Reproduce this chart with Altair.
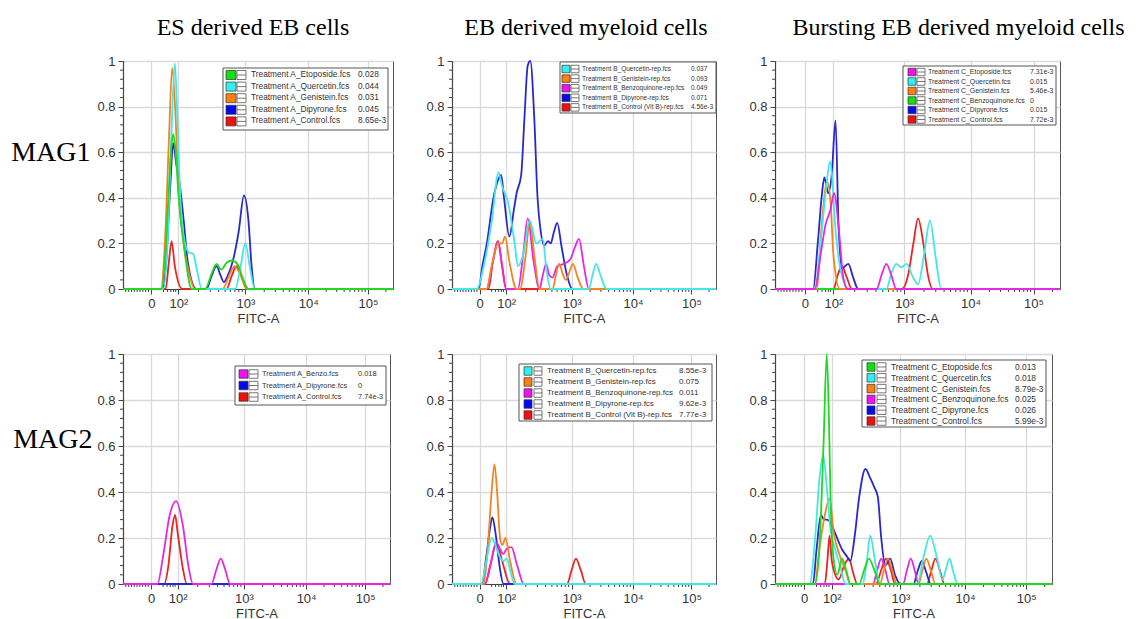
import altair as alt
import pandas as pd

# ---------------- data ----------------
# x values are positions on the biexponential FITC-A axis expressed in axis units:
# 1 = "0", 2 = 10^2, 3 = 10^3, 4 = 10^4, 5 = 10^5 (left edge 0, right edge 5.42)
X_TICKS = [1, 2, 3, 4, 5]
X_TICK_LABELS = ["0", "10²", "10³", "10⁴", "10⁵"]
Y_TICKS = [0, 0.2, 0.4, 0.6, 0.8, 1]
Y_MINOR = [0.04, 0.08, 0.12, 0.16, 0.24, 0.28, 0.32, 0.36, 0.44, 0.48, 0.52, 0.56,
           0.64, 0.68, 0.72, 0.76, 0.84, 0.88, 0.92, 0.96]
X_MINOR = [0.1, 0.2, 0.3, 0.4, 0.5, 0.6, 0.7, 0.8, 0.9, 1.45, 1.6, 1.72, 1.82, 1.9,
           2.301, 2.477, 2.602, 2.699, 2.778, 2.845, 2.903, 2.954,
           3.301, 3.477, 3.602, 3.699, 3.778, 3.845, 3.903, 3.954,
           4.301, 4.477, 4.602, 4.699, 4.778, 4.845, 4.903, 4.954, 5.301]

COL_TITLES = ["ES derived EB cells", "EB derived myeloid cells", "Bursting EB derived myeloid cells"]
ROW_TITLES = ["MAG1", "MAG2"]

# Panel 1: ES derived EB cells, MAG1
P1_LABELS = ["Treatment A_Etoposide.fcs", "Treatment A_Quercetin.fcs", "Treatment A_Genistein.fcs",
             "Treatment A_Dipyrone.fcs", "Treatment A_Control.fcs"]
P1_VALUES = ["0.028", "0.044", "0.031", "0.045", "8.65e-3"]
P1_COLORS = ["green", "cyan", "orange", "blue", "red"]
P1_X = [
    [1.38, 1.5, 1.62, 1.74, 1.81, 1.9, 2.0, 2.1, 2.2, 2.4, 2.5, 2.57, 2.64, 2.72, 2.8, 2.88, 2.96, 3.04],
    [1.44, 1.6, 1.75, 1.87, 1.95, 2.03, 2.1, 2.16, 2.22, 2.28, 2.35, 2.85, 2.93, 3.0, 3.07, 3.15],
    [1.36, 1.5, 1.65, 1.77, 1.88, 2.0, 2.08, 2.16, 2.25, 2.66, 2.76, 2.84, 2.93, 3.02],
    [1.42, 1.55, 1.7, 1.81, 1.92, 2.02, 2.08, 2.14, 2.27, 2.42, 2.5, 2.57, 2.63, 2.68, 2.74, 2.82,
     2.9, 2.98, 3.05, 3.1, 3.15],
    [1.53, 1.65, 1.75, 1.87, 2.06, 2.72, 2.8, 2.87, 2.95, 3.05],
]
P1_Y = [
    [0, 0.12, 0.38, 0.62, 0.68, 0.6, 0.42, 0.15, 0, 0, 0.07, 0.11, 0.085, 0.115, 0.125, 0.11, 0.05, 0],
    [0, 0.2, 0.7, 0.99, 0.8, 0.4, 0.2, 0.16, 0.155, 0.08, 0, 0, 0.1, 0.2, 0.1, 0],
    [0, 0.2, 0.65, 0.97, 0.8, 0.45, 0.2, 0.07, 0, 0, 0.06, 0.1, 0.06, 0],
    [0, 0.12, 0.45, 0.64, 0.55, 0.46, 0.3, 0.12, 0, 0, 0.06, 0.1, 0.06, 0.03, 0.06, 0.13,
     0.25, 0.41, 0.3, 0.1, 0],
    [0, 0.12, 0.21, 0.1, 0, 0, 0.06, 0.1, 0.05, 0],
]

# Panel 2: EB derived myeloid cells, MAG1
P2_LABELS = ["Treatment B_Quercetin-rep.fcs", "Treatment B_Genistein-rep.fcs",
             "Treatment B_Benzoquinone-rep.fcs", "Treatment B_Dipyrone-rep.fcs",
             "Treatment B_Control (Vit B)-rep.fcs"]
P2_VALUES = ["0.037", "0.093", "0.049", "0.071", "4.56e-3"]
P2_COLORS = ["cyan", "orange", "magenta", "blue", "red"]
P2_X = [
    [0.9, 1.15, 1.46, 1.71, 1.85, 2.03, 2.13, 2.18, 2.26, 2.36, 2.46, 2.56, 2.61, 2.68,
     3.28, 3.34, 3.4, 3.47, 3.57],
    [1.26, 1.45, 1.7, 1.85, 1.96, 2.05, 2.16, 2.21, 2.3, 2.36, 2.43, 2.51,
     2.71, 2.76, 2.81, 2.86, 2.91, 2.96, 3.02, 3.1, 3.19],
    [1.26, 1.5, 1.7, 1.85, 2.0, 2.18, 2.26, 2.33, 2.42, 2.51, 2.56, 2.61, 2.66, 2.71, 2.78,
     2.88, 2.98, 3.05, 3.12, 3.2, 3.28],
    [0.96, 1.1, 1.27, 1.52, 1.7, 1.81, 1.92, 2.05, 2.12, 2.16, 2.23, 2.28, 2.33, 2.37, 2.43, 2.48,
     2.53, 2.58, 2.64, 2.68, 2.73, 2.78, 2.85, 2.93, 3.01],
    [1.33, 1.5, 1.68, 1.85, 2.0],
]
P2_Y = [
    [0, 0.1, 0.3, 0.51, 0.45, 0.38, 0.2, 0.1, 0.15, 0.3, 0.2, 0.22, 0.1, 0,
     0, 0.06, 0.11, 0.06, 0],
    [0, 0.1, 0.2, 0.2, 0.23, 0.12, 0, 0, 0.15, 0.3, 0.15, 0,
     0, 0.06, 0.11, 0.07, 0.04, 0.07, 0.11, 0.05, 0],
    [0, 0.12, 0.21, 0.1, 0, 0, 0.15, 0.31, 0.12, 0, 0.06, 0.11, 0.06, 0.05, 0.1,
     0.11, 0.13, 0.18, 0.22, 0.1, 0],
    [0, 0.1, 0.2, 0.4, 0.48, 0.5, 0.4, 0.23, 0.35, 0.42, 0.5, 0.75, 0.98, 1.0, 0.75, 0.4,
     0.25, 0.19, 0.21, 0.2, 0.25, 0.29, 0.18, 0.06, 0],
    [0, 0.12, 0.21, 0.1, 0],
]

# Panel 3: Bursting EB derived myeloid cells, MAG1
P3_LABELS = ["Treatment C_Etoposide.fcs", "Treatment C_Quercetin.fcs", "Treatment C_Genistein.fcs",
             "Treatment C_Benzoquinone.fcs", "Treatment C_Dipyrone.fcs", "Treatment C_Control.fcs"]
P3_VALUES = ["7.31e-3", "0.015", "5.46e-3", "0", "0.015", "7.72e-3"]
P3_COLORS = ["magenta", "cyan", "orange", "green", "blue", "red"]
P3_X = [
    [1.35, 1.55, 1.72, 1.9, 2.01, 2.08, 2.14, 2.2, 2.61, 2.68, 2.75, 2.82, 2.89],
    [1.35, 1.55, 1.75, 1.88, 1.95, 2.02, 2.09, 2.15, 2.22,
     2.75, 2.82, 2.89, 2.96, 3.04, 3.12, 3.21, 3.3, 3.39, 3.47, 3.56],
    [1.41, 1.6, 1.78, 1.9, 2.0, 2.09],
    [],
    [1.29, 1.45, 1.6, 1.68, 1.82, 1.94, 2.03, 2.07, 2.12, 2.21, 2.28, 2.35],
    [2.0, 2.06, 2.12, 2.19, 2.26, 2.97, 3.06, 3.14, 3.21, 3.29, 3.36, 3.43],
]
P3_Y = [
    [0, 0.15, 0.28, 0.35, 0.42, 0.25, 0.05, 0, 0, 0.06, 0.11, 0.06, 0],
    [0, 0.2, 0.45, 0.56, 0.5, 0.3, 0.1, 0.03, 0,
     0, 0.07, 0.11, 0.095, 0.11, 0.06, 0.02, 0.15, 0.3, 0.15, 0],
    [0, 0.3, 0.47, 0.38, 0.15, 0],
    [],
    [0, 0.2, 0.42, 0.49, 0.42, 0.5, 0.74, 0.3, 0.09, 0.11, 0.05, 0],
    [0, 0.06, 0.1, 0.05, 0, 0, 0.06, 0.2, 0.31, 0.2, 0.06, 0],
]

# Panel 4: ES derived EB cells, MAG2
P4_LABELS = ["Treatment A_Benzo.fcs", "Treatment A_Dipyrone.fcs", "Treatment A_Control.fcs"]
P4_VALUES = ["0.018", "0", "7.74e-3"]
P4_COLORS = ["magenta", "blue", "red"]
P4_X = [
    [1.24, 1.45, 1.7, 1.94, 2.08, 2.16, 2.23, 2.51, 2.58, 2.65, 2.72, 2.79],
    [],
    [1.49, 1.65, 1.8, 1.9, 2.0, 2.07, 2.14],
]
P4_Y = [
    [0, 0.12, 0.3, 0.36, 0.25, 0.08, 0, 0, 0.06, 0.11, 0.06, 0],
    [],
    [0, 0.08, 0.25, 0.3, 0.22, 0.08, 0],
]

# Panel 5: EB derived myeloid cells, MAG2
P5_LABELS = ["Treatment B_Quercetin-rep.fcs", "Treatment B_Genistein-rep.fcs",
             "Treatment B_Benzoquinone-rep.fcs", "Treatment B_Dipyrone-rep.fcs",
             "Treatment B_Control (Vit B)-rep.fcs"]
P5_VALUES = ["8.55e-3", "0.075", "0.011", "9.62e-3", "7.77e-3"]
P5_COLORS = ["cyan", "orange", "magenta", "blue", "red"]
P5_X = [
    [1.05, 1.25, 1.45, 1.6, 1.75, 1.9, 2.01, 2.07, 2.13],
    [1.14, 1.3, 1.45, 1.56, 1.67, 1.77, 1.86, 1.98, 2.06, 2.16],
    [1.2, 1.4, 1.62, 1.78, 1.9, 2.0, 2.08, 2.17, 2.27],
    [1.08, 1.25, 1.4, 1.48, 1.6, 1.75, 1.9],
    [1.2, 1.4, 1.64, 1.85, 2.06, 2.93, 3.0, 3.07, 3.15, 3.23],
]
P5_Y = [
    [0, 0.1, 0.2, 0.17, 0.12, 0.1, 0.11, 0.05, 0],
    [0, 0.15, 0.4, 0.52, 0.38, 0.2, 0.17, 0.2, 0.1, 0],
    [0, 0.08, 0.18, 0.15, 0.13, 0.15, 0.16, 0.08, 0],
    [0, 0.12, 0.25, 0.29, 0.22, 0.08, 0],
    [0, 0.08, 0.18, 0.1, 0, 0, 0.06, 0.11, 0.06, 0],
]

# Panel 6: Bursting EB derived myeloid cells, MAG2
P6_LABELS = ["Treatment C_Etoposide.fcs", "Treatment C_Quercetin.fcs", "Treatment C_Genistein.fcs",
             "Treatment C_Benzoquinone.fcs", "Treatment C_Dipyrone.fcs", "Treatment C_Control.fcs"]
P6_VALUES = ["0.013", "0.018", "8.79e-3", "0.025", "0.026", "5.99e-3"]
P6_COLORS = ["green", "cyan", "orange", "magenta", "blue", "red"]
P6_X = [
    [1.39, 1.55, 1.7, 1.82, 1.9, 1.97, 2.03, 2.08, 2.15, 2.21, 2.27, 2.4, 2.47, 2.54, 2.62, 2.7],
    [1.2, 1.4, 1.55, 1.69, 1.8, 1.94, 2.05, 2.12, 2.2, 2.45, 2.51, 2.56, 2.63, 2.7,
     3.26, 3.36, 3.46, 3.56, 3.65, 3.7, 3.76, 3.82, 3.89],
    [1.39, 1.55, 1.75, 1.92, 2.03, 2.12, 2.2, 2.27, 2.7, 2.76, 2.82, 2.88, 2.95,
     3.28, 3.34, 3.4, 3.47, 3.54],
    [2.6, 2.66, 2.72, 2.78, 2.84, 3.04, 3.1, 3.16, 3.22, 3.28],
    [1.32, 1.45, 1.61, 1.72, 1.82, 1.94, 2.05, 2.15, 2.22, 2.27, 2.33, 2.4, 2.49, 2.56, 2.62,
     2.67, 2.72, 2.78, 2.85, 2.92, 3.0, 3.2, 3.27, 3.33, 3.4, 3.47],
    [1.75, 1.84, 1.92, 2.0, 2.1, 2.18, 2.25, 2.31, 2.37, 2.64, 2.72, 2.79, 2.86, 2.92,
     3.41, 3.48, 3.54, 3.61, 3.68],
]
P6_Y = [
    [0, 0.15, 0.6, 1.0, 0.7, 0.3, 0.1, 0.04, 0.11, 0.06, 0, 0, 0.06, 0.11, 0.06, 0],
    [0, 0.2, 0.45, 0.56, 0.45, 0.25, 0.15, 0.08, 0, 0, 0.1, 0.21, 0.1, 0,
     0, 0.12, 0.21, 0.12, 0.02, 0.06, 0.11, 0.05, 0],
    [0, 0.15, 0.3, 0.37, 0.22, 0.12, 0.06, 0, 0, 0.06, 0.11, 0.06, 0,
     0, 0.06, 0.11, 0.06, 0],
    [0, 0.06, 0.11, 0.06, 0, 0, 0.06, 0.11, 0.06, 0],
    [0, 0.15, 0.3, 0.28, 0.28, 0.27, 0.22, 0.15, 0.12, 0.1, 0.2, 0.38, 0.5, 0.46, 0.42,
     0.38, 0.2, 0.08, 0.11, 0.04, 0, 0, 0.06, 0.1, 0.05, 0],
    [0, 0.1, 0.21, 0.1, 0.02, 0.08, 0.11, 0.05, 0, 0, 0.06, 0.11, 0.06, 0,
     0, 0.06, 0.11, 0.06, 0],
]

# ---------------- styles / layout ----------------
LINE_COLOR = {"green": "#22d822", "cyan": "#44e6e6", "orange": "#f28424", "blue": "#2828cc",
              "red": "#ea2424", "magenta": "#e428e4"}
BOX_COLOR = {"green": "#10e010", "cyan": "#30f0f0", "orange": "#ff8010", "blue": "#0808f0",
             "red": "#f01010", "magenta": "#f010f0"}

X_EDGE = [0, 5.42]
X_KNOTS = [0, 1, 2, 3, 4, 5, 5.42]
X_FRAC = [0, 0.105, 0.205, 0.453, 0.686, 0.907, 1.0]

SANS = "Liberation Sans"
SERIF = "Liberation Serif"

# legend geometry (pixels, measured from plot right edge / top edge)
PANELS = [
    dict(w=270, h=228, labels=P1_LABELS, values=P1_VALUES, colors=P1_COLORS, xs=P1_X, ys=P1_Y,
         title=COL_TITLES[0], tdx=-5, ylab=ROW_TITLES[0], ylx=-33, yly=91,
         box=(170, 5, 7, 69), sq=(167, 157), ic=(156, 147), tx=142, vx=35, r0=14, dy=11.6, fs=8.3, s=9),
    dict(w=264, h=228, labels=P2_LABELS, values=P2_VALUES, colors=P2_COLORS, xs=P2_X, ys=P2_Y,
         title=COL_TITLES[1], tdx=2,
         box=(156, 0, 1, 52), sq=(154, 146), ic=(145, 137), tx=134, vx=25, r0=8, dy=9.6, fs=6.5, s=7.5),
    dict(w=285, h=228, labels=P3_LABELS, values=P3_VALUES, colors=P3_COLORS, xs=P3_X, ys=P3_Y,
         title=COL_TITLES[2], tdx=41,
         box=(157, 4, 5, 64), sq=(152, 144), ic=(143, 135), tx=132, vx=30, r0=11, dy=9.5, fs=6.9, s=7.5),
    dict(w=267, h=230, labels=P4_LABELS, values=P4_VALUES, colors=P4_COLORS, xs=P4_X, ys=P4_Y,
         ylab=ROW_TITLES[1], ylx=-31, yly=85,
         box=(155, 4, 12, 51), sq=(151, 142), ic=(141, 132), tx=128, vx=32, r0=20, dy=11.5, fs=7.4, s=8.5),
    dict(w=264, h=230, labels=P5_LABELS, values=P5_VALUES, colors=P5_COLORS, xs=P5_X, ys=P5_Y,
         box=(197, 4, 10, 67), sq=(192, 184), ic=(182, 174), tx=169, vx=37, r0=17, dy=11, fs=8.0, s=8.5),
    dict(w=277, h=230, labels=P6_LABELS, values=P6_VALUES, colors=P6_COLORS, xs=P6_X, ys=P6_Y,
         box=(190, 6, 6, 73), sq=(185, 177), ic=(175, 166), tx=161, vx=37, r0=13, dy=10.8, fs=8.4, s=8.5),
]

X_LABEL_EXPR = " : ".join(
    f"datum.value == {v} ? '{t}'" for v, t in zip(X_TICKS[:-1], X_TICK_LABELS[:-1])
) + f" : '{X_TICK_LABELS[-1]}'"


def make_panel(p):
    W, H = p["w"], p["h"]
    xscale = alt.Scale(domain=X_KNOTS, range=[round(f * W, 2) for f in X_FRAC], nice=False, zero=False)
    yscale = alt.Scale(domain=[0, 1], nice=False, zero=False)
    xaxis = alt.Axis(values=X_TICKS, labelExpr=X_LABEL_EXPR, title="FITC-A", grid=True,
                     labelFontSize=13, labelFont=SANS, labelColor="#333", labelPadding=3,
                     tickSize=5, titleFont=SANS, titleFontSize=13, titleFontWeight="normal",
                     titleColor="#333", titlePadding=2, labelFlush=False)
    ykw = dict(values=Y_TICKS, format="~g", grid=True, labelFontSize=13, labelFont=SANS,
               labelColor="#333", labelPadding=3, tickSize=5)
    if p.get("ylab"):
        ykw.update(title=p["ylab"], titleAngle=0, titleFont=SERIF, titleFontSize=28,
                   titleFontWeight="normal", titleColor="#000", titleAlign="right",
                   titleBaseline="middle", titleX=p["ylx"], titleY=p["yly"])
    else:
        ykw.update(title=None)
    yaxis = alt.Axis(**ykw)

    def X(field):
        return alt.X(field, type="quantitative", scale=xscale, axis=xaxis)

    def Y(field):
        return alt.Y(field, type="quantitative", scale=yscale, axis=yaxis)

    layers = []
    # minor ticks
    ymin_df = pd.DataFrame({"v": Y_MINOR})
    layers.append(alt.Chart(ymin_df).mark_rule(color="#444", strokeWidth=1).encode(
        y=Y("v"), x=alt.value(-3), x2=alt.value(0)))
    xmin_df = pd.DataFrame({"v": X_MINOR})
    layers.append(alt.Chart(xmin_df).mark_rule(color="#444", strokeWidth=1).encode(
        x=X("v"), y=alt.value(H), y2=alt.value(H + 3)))

    # curves, last legend entry drawn first (first entry on top)
    n = len(p["labels"])
    for i in reversed(range(n)):
        xs = [X_EDGE[0]] + list(p["xs"][i]) + [X_EDGE[1]]
        ys = [0] + list(p["ys"][i]) + [0]
        df = pd.DataFrame({"x": xs, "y": ys})
        layers.append(alt.Chart(df).mark_line(
            color=LINE_COLOR[p["colors"][i]], strokeWidth=1.8, interpolate="monotone").encode(
            x=X("x"), y=Y("y")))

    # legend
    bx0, bx1, by0, by1 = p["box"]
    box_df = pd.DataFrame({"k": [0]})
    layers.append(alt.Chart(box_df).mark_rect(fill="white", stroke="#555", strokeWidth=1).encode(
        x=alt.value(W - bx0), x2=alt.value(W - bx1), y=alt.value(by0), y2=alt.value(by1)))
    s = p["s"]
    rows = [p["r0"] + k * p["dy"] for k in range(n)]
    leg_df = pd.DataFrame({
        "name": p["labels"],
        "val": p["values"],
        "col": [BOX_COLOR[c] for c in p["colors"]],
        "ly": [1 - r / H for r in rows],
        "lt": [1 - (r - s / 2) / H for r in rows],
        "lb": [1 - (r + s / 2) / H for r in rows],
    })
    base = alt.Chart(leg_df)
    layers.append(base.mark_rect(stroke="#333", strokeWidth=0.7).encode(
        x=alt.value(W - p["sq"][0]), x2=alt.value(W - p["sq"][1]),
        y=Y("lt"), y2="lb", fill=alt.Fill("col:N", scale=None)))
    layers.append(base.mark_rect(fill="white", stroke="#555", strokeWidth=0.8).encode(
        x=alt.value(W - p["ic"][0]), x2=alt.value(W - p["ic"][1]), y=Y("lt"), y2="lb"))
    layers.append(base.mark_rule(color="#555", strokeWidth=0.8).encode(
        x=alt.value(W - p["ic"][0]), x2=alt.value(W - p["ic"][1]), y=Y("ly")))
    layers.append(base.mark_text(align="left", baseline="middle", font=SANS, fontSize=p["fs"],
                                 color="#333").encode(x=alt.value(W - p["tx"]), y=Y("ly"), text="name:N"))
    layers.append(base.mark_text(align="left", baseline="middle", font=SANS, fontSize=p["fs"],
                                 color="#333").encode(x=alt.value(W - p["vx"]), y=Y("ly"), text="val:N"))

    props = dict(width=W, height=H)
    if p.get("title"):
        props["title"] = alt.TitleParams(p["title"], font=SERIF, fontSize=24, fontWeight="normal",
                                         color="#000", anchor="middle", frame="group", offset=15,
                                         dx=p["tdx"])
    return alt.layer(*layers).properties(**props)


panels = [make_panel(p) for p in PANELS]
chart = alt.concat(
    *panels, columns=3, spacing={"row": 65, "column": 59}, bounds="flush"
).resolve_scale(
    x="independent", y="independent"
).properties(
    padding={"left": 10, "top": 15, "right": 0, "bottom": 0}, background="white"
).configure_view(
    stroke="#555", strokeWidth=1
).configure_axis(
    gridColor="#dadada", gridWidth=1.3, domainColor="#444", domainWidth=1.2, tickColor="#444"
)

chart.save("out.html", embed_options={"renderer": "svg", "actions": False})
